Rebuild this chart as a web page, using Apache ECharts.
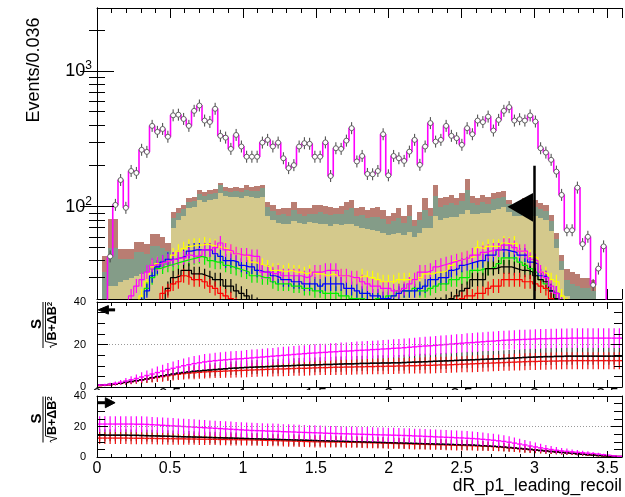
<!DOCTYPE html>
<html><head><meta charset="utf-8">
<script src="https://cdn.jsdelivr.net/npm/echarts@6/dist/echarts.min.js"></script>
<style>html,body{margin:0;padding:0;background:#fff}#c{width:625px;height:497px}</style>
</head><body><div id="c"></div>
<script>
// ---------------- DATA ----------------
const binWidth = 0.036;   // Events/0.036
const xLabels = [0, 0.5, 1, 1.5, 2, 2.5, 3, 3.5];
const yMainLabels = [100, 1000];
const yMainMinor = [30,40,50,60,70,80,90,200,300,400,500,600,700,800,900,2000];

const dataCounts = [
  8, 15, 43, 103, 157, 98, 183, 177, 262, 253,
  393, 355, 373, 327, 470, 475, 442, 393, 507, 555,
  430, 420, 525, 332, 322, 266, 337, 277, 233, 233,
  233, 296, 310, 277, 296, 227, 192, 202, 277, 293,
  290, 233, 233, 297, 168, 269, 266, 306, 378, 215,
  236, 174, 173, 183, 341, 170, 236, 227, 217, 254,
  310, 203, 277, 412, 301, 310, 393, 332, 319, 285,
  378, 341, 430, 419, 460, 363, 435, 507, 540, 430,
  440, 430, 469, 423, 269, 250, 221, 181, 122, 67,
  67, 138, 53, 60, 26.5, 35, 51, 14, 10, 8];

const bkgKhaki = [
  0, 6, 26, 26, 28, 29, 30, 31, 32, 33,
  34, 35, 36, 37, 70, 80, 86, 98, 100, 112,
  108, 112, 113, 125, 120, 118, 118, 115, 120, 118,
  116, 118, 86, 80, 76, 75, 74, 78, 76, 75,
  77, 76, 74, 75, 72, 74, 73, 75, 75, 72,
  70, 68, 67, 66, 64, 62, 63, 64, 62, 65,
  60, 64, 70, 70, 85, 80, 82, 84, 84, 88,
  95, 88, 88, 90, 90, 95, 96, 100, 92, 85,
  86, 88, 90, 86, 82, 80, 66, 50, 34, 22,
  20, 20, 18, 18, 17, 0, 0, 0, 0, 0];
const bkgGreen = [
  0, 27, 24, 24, 13, 12, 11, 15, 14, 12,
  17, 16, 14, 10, 12, 10, 10, 10, 10, 12,
  12, 11, 14, 20, 10, 10, 12, 13, 12, 12,
  14, 18, 13, 13, 11, 13, 12, 16, 12, 11,
  12, 13, 17, 14, 15, 14, 15, 20, 22, 14,
  17, 15, 17, 18, 17, 13, 15, 18, 14, 20,
  12, 16, 25, 15, 35, 20, 20, 22, 18, 22,
  38, 18, 15, 18, 15, 18, 19, 18, 12, 10,
  13, 15, 16, 14, 14, 13, 12, 8, 6, 7,
  7, 6, 7, 7, 7, 0, 0, 0, 0, 0];
const bkgRose = [
  0, 10, 31, 31, 8, 8, 8, 9, 9, 8,
  12, 12, 10, 7, 10, 8, 7, 7, 8, 9,
  8, 10, 8, 3, 10, 10, 10, 10, 12, 10,
  12, 8, 10, 10, 9, 10, 11, 15, 9, 12,
  8, 14, 12, 12, 12, 10, 13, 14, 15, 11,
  13, 12, 13, 16, 14, 10, 12, 15, 10, 17,
  8, 12, 20, 12, 25, 15, 15, 16, 13, 16,
  26, 14, 12, 14, 12, 13, 14, 13, 8, 8,
  10, 12, 12, 11, 10, 10, 9, 6, 4, 6,
  6, 6, 5, 5, 5, 0, 0, 0, 0, 0];

const sigYellow = [
  2,3,5,7,9,12,15,18,22,28,
  36,38,39,40,44,47,49,51,52,52,
  53,52,51,50,49,47,45,44,43,39,
  38,37,36,34,34,33,34,33,33,32,
  33,32,32,31,32,31,31,31,30,30,
  31,30,30,29,28,28,28,29,29,29,
  29,30,32,32,33,33,34,37,40,41,
  42,43,50,49,51,51,51,54,53,54,
  47,46,43,42,33,32,29,28,22,19,
  16,14,12,10,8,7,6,5,4,3];
const sigBlue = [
  1,2,3,5,7,9,12,15,19,24,
  31,36,39,41,41,42,43,47,48,48,
  48,48,45,43,40,40,39,37,36,36,
  34,33,33,31,30,29,29,28,28,27,
  27,27,26,27,27,27,27,25,25,24,
  23,23,22,22,21,21,22,23,24,24,
  24,25,26,29,29,30,30,34,35,37,
  38,39,40,40,44,44,48,48,47,46,
  44,44,39,38,31,30,24,23,19,16,
  14,12,10,9,8,7,6,5,4,3];
const sigGreen = [
  1,2,3,4,6,8,11,15,19,25,
  30,35,36,37,38,39,40,41,42,43,
  42,40,39,39,37,36,35,34,33,31,
  31,30,30,28,27,27,27,26,26,25,
  25,24,24,23,23,23,22,22,21,21,
  21,20,20,21,21,22,22,24,24,24,
  25,24,24,25,26,27,27,29,29,30,
  30,34,34,35,35,36,38,42,42,42,
  39,37,35,33,29,27,24,21,18,15,
  13,11,9,8,7,6,5,4,3,2];
const sigBlack = [
  1,1,2,2,3,4,5,6,8,10,
  12,14,17,25,30,31,34,34,32,32,
  31,30,29,29,26,26,24,23,22,20,
  19,18,17,16,15,14,13,12,12,11,
  11,10,10,10,10,10,10,10,10,10,
  11,11,11,12,12,13,14,15,16,16,
  16,16,17,18,19,19,20,21,22,24,
  25,29,29,29,35,35,36,36,36,35,
  34,34,33,31,29,28,24,21,18,15,
  13,11,9,8,7,6,5,4,3,3];
const sigRed = [
  1,1,1,2,2,3,4,5,7,9,
  12,16,23,24,27,28,31,30,29,29,
  28,26,25,23,22,21,19,18,17,16,
  15,14,13,12,11,11,10,10,9,9,
  9,9,9,9,9,9,9,10,10,10,
  11,11,12,12,13,13,14,14,15,15,
  14,15,16,16,17,18,18,19,20,21,
  22,22,23,23,25,26,26,29,29,29,
  29,28,28,27,26,25,21,18,15,12,
  10,9,8,7,6,5,4,3,3,2];
const sigMagenta = [
  3,5,7,10,13,17,22,26,29,33,
  37,38,39,40,41,42,42,44,43,44,
  48,48,50,54,48,47,45,44,44,43,
  43,33,33,32,33,31,31,31,31,30,
  31,33,33,34,34,34,31,31,30,30,
  28,27,26,26,25,25,24,24,25,27,
  29,33,33,34,36,37,38,39,40,41,
  42,44,44,46,47,48,48,52,52,50,
  47,47,41,40,33,30,26,23,19,16,
  14,12,10,8,7,6,5,4,3,3];

// cut arrow in main pad: [cutX, lineTop, tipX, tipY, baseX, baseLow, baseHigh]
const cutArrow = [3.0, 200, 2.815, 100, 2.99, 77.5, 126];

// significance, cut from the left (middle pad)
const sigL_mag = [
  0.9,1.0,1.3,1.7,2.2,2.8,3.4,4.0,4.7,5.4,
  6.1,6.8,7.5,8.2,8.8,9.4,10.0,10.5,11.0,11.4,
  11.8,12.1,12.4,12.6,12.8,13.0,13.2,13.3,13.5,13.7,
  13.9,14.1,14.3,14.5,14.7,14.9,15.1,15.3,15.5,15.7,
  15.9,16.0,16.2,16.3,16.5,16.6,16.8,16.9,17.0,17.2,
  17.3,17.4,17.6,17.7,17.9,18.0,18.2,18.3,18.5,18.7,
  18.9,19.1,19.3,19.4,19.6,19.8,20.0,20.2,20.4,20.6,
  20.8,20.9,21.1,21.3,21.5,21.6,21.8,22.0,22.1,22.2,
  22.3,22.4,22.5,22.6,22.7,22.7,22.8,22.8,22.9,22.9,
  23.0,23.0,23.0,23.0,23.0,23.0,23.0,23.0,23.0,23.0];
const errL_mag = [
  0.4,0.5,0.7,0.9,1.1,1.4,1.7,1.9,2.2,2.4,
  2.6,2.8,3.0,3.1,3.2,3.3,3.4,3.5,3.6,3.6,
  3.7,3.7,3.7,3.8,3.8,3.8,3.8,3.8,3.9,3.9,
  3.9,3.9,3.9,3.9,4.0,4.0,4.0,4.0,4.0,4.0,
  4.0,4.1,4.1,4.1,4.1,4.1,4.1,4.1,4.2,4.2,
  4.2,4.2,4.2,4.2,4.2,4.2,4.3,4.3,4.3,4.3,
  4.3,4.3,4.3,4.4,4.4,4.4,4.4,4.4,4.4,4.4,
  4.5,4.5,4.5,4.5,4.5,4.5,4.5,4.5,4.5,4.5,
  4.6,4.6,4.6,4.6,4.6,4.6,4.6,4.6,4.6,4.6,
  4.6,4.6,4.6,4.6,4.6,4.6,4.6,4.6,4.6,4.6];
const sigL_blk = [
  0.9,1.0,1.2,1.5,1.8,2.2,2.6,3.0,3.4,3.8,
  4.4,4.9,5.3,5.7,6.1,6.5,6.8,7.1,7.4,7.6,
  7.8,8.0,8.2,8.4,8.6,8.8,8.9,9.1,9.2,9.3,
  9.4,9.5,9.6,9.7,9.8,9.9,10.0,10.1,10.2,10.3,
  10.3,10.4,10.5,10.6,10.6,10.7,10.8,10.9,10.9,11.0,
  11.1,11.1,11.2,11.2,11.3,11.3,11.4,11.4,11.5,11.6,
  11.7,11.8,11.9,12.0,12.1,12.2,12.3,12.4,12.5,12.6,
  12.7,12.8,12.9,13.0,13.1,13.2,13.3,13.4,13.5,13.6,
  13.8,13.9,14.0,14.1,14.2,14.3,14.3,14.4,14.4,14.5,
  14.5,14.5,14.5,14.5,14.5,14.5,14.5,14.5,14.5,14.5];
const errL_blk = [
  0.3,0.4,0.5,0.6,0.8,1.0,1.2,1.4,1.6,1.8,
  2.0,2.2,2.4,2.5,2.6,2.7,2.8,2.9,3.0,3.0,
  3.1,3.1,3.1,3.2,3.2,3.2,3.2,3.3,3.3,3.3,
  3.3,3.3,3.4,3.4,3.4,3.4,3.4,3.4,3.5,3.5,
  3.5,3.5,3.5,3.5,3.5,3.6,3.6,3.6,3.6,3.6,
  3.6,3.6,3.6,3.7,3.7,3.7,3.7,3.7,3.7,3.7,
  3.7,3.8,3.8,3.8,3.8,3.8,3.8,3.8,3.8,3.8,
  3.9,3.9,3.9,3.9,3.9,3.9,3.9,3.9,3.9,3.9,
  4.0,4.0,4.0,4.0,4.0,4.0,4.0,4.0,4.0,4.0,
  4.0,4.0,4.0,4.0,4.0,4.0,4.0,4.0,4.0,4.0];
const sigL_red = [
  0.6,0.8,1.0,1.3,1.7,2.1,2.5,2.9,3.3,3.7,
  4.1,4.5,4.9,5.3,5.7,6.0,6.3,6.5,6.7,6.9,
  7.1,7.2,7.3,7.4,7.5,7.6,7.7,7.8,7.9,8.0,
  8.1,8.2,8.3,8.4,8.5,8.5,8.6,8.7,8.8,8.8,
  8.9,9.0,9.1,9.1,9.2,9.3,9.3,9.4,9.4,9.5,
  9.5,9.6,9.6,9.7,9.7,9.8,9.8,9.9,9.9,10.0,
  10.0,10.1,10.2,10.2,10.3,10.4,10.4,10.5,10.6,10.7,
  10.8,10.9,11.0,11.1,11.2,11.3,11.4,11.5,11.6,11.7,
  11.8,11.9,12.0,12.0,12.1,12.1,12.2,12.2,12.3,12.3,
  12.4,12.4,12.4,12.4,12.4,12.4,12.4,12.4,12.4,12.4];
const errL_red = errL_blk.slice();

// significance, cut from the right (bottom pad)
const sigR_mag = [
  21.6,21.6,21.6,21.6,21.6,21.6,21.6,21.5,21.5,21.4,
  21.2,21.0,20.8,20.6,20.4,20.2,20.0,19.8,19.6,19.4,
  19.2,19.0,18.8,18.6,18.4,18.2,18.0,17.8,17.6,17.4,
  17.3,17.2,17.0,16.9,16.8,16.6,16.5,16.4,16.2,16.1,
  16.0,15.9,15.8,15.6,15.5,15.4,15.3,15.2,15.1,15.0,
  14.9,14.8,14.7,14.6,14.5,14.4,14.3,14.2,14.1,14.0,
  13.8,13.7,13.5,13.4,13.2,13.1,12.9,12.8,12.6,12.5,
  12.3,12.1,11.9,11.6,11.3,11.0,10.6,10.2,9.7,9.1,
  8.5,7.9,7.2,6.6,6.0,5.4,4.9,4.4,4.0,3.7,
  3.4,3.1,2.8,2.5,2.2,1.9,1.5,1.1,0.7,0.4];
const errR_mag = [
  5.2,5.2,5.2,5.2,5.2,5.2,5.2,5.2,5.2,5.2,
  5.1,5.1,5.1,5.1,5.1,5.1,5.1,5.1,5.1,5.1,
  5.0,5.0,5.0,5.0,5.0,5.0,5.0,5.0,5.0,5.0,
  5.0,5.0,5.0,5.0,5.0,4.9,4.9,4.9,4.9,4.9,
  4.9,4.9,4.9,4.9,4.9,4.9,4.9,4.9,4.9,4.9,
  4.8,4.8,4.8,4.8,4.8,4.8,4.8,4.8,4.8,4.8,
  4.8,4.8,4.8,4.8,4.8,4.8,4.8,4.8,4.7,4.7,
  4.7,4.6,4.5,4.4,4.3,4.2,4.1,4.0,3.9,3.7,
  3.5,3.3,3.1,2.9,2.7,2.5,2.3,2.1,1.9,1.8,
  1.6,1.5,1.3,1.2,1.0,0.9,0.7,0.6,0.4,0.3];
const sigR_blk = [
  14.3,14.3,14.3,14.3,14.3,14.3,14.2,14.2,14.1,14.0,
  13.9,13.8,13.7,13.6,13.5,13.4,13.3,13.2,13.1,13.0,
  12.9,12.8,12.7,12.6,12.5,12.4,12.3,12.2,12.1,12.0,
  11.9,11.8,11.7,11.6,11.5,11.4,11.3,11.2,11.1,11.0,
  10.9,10.8,10.7,10.6,10.5,10.4,10.3,10.2,10.1,10.0,
  9.9,9.8,9.7,9.6,9.5,9.4,9.3,9.2,9.1,9.0,
  8.9,8.8,8.7,8.6,8.5,8.4,8.3,8.2,8.1,8.0,
  7.9,7.8,7.6,7.4,7.2,7.0,6.8,6.5,6.2,5.9,
  5.6,5.3,5.0,4.6,4.3,4.0,3.6,3.3,3.0,2.7,
  2.4,2.1,1.8,1.5,1.3,1.0,0.8,0.6,0.4,0.3];
const errR_blk = [
  3.9,3.9,3.9,3.9,3.9,3.9,3.9,3.9,3.9,3.9,
  3.9,3.9,3.9,3.9,3.9,3.9,3.9,3.8,3.8,3.8,
  3.8,3.8,3.8,3.8,3.8,3.8,3.8,3.8,3.8,3.8,
  3.8,3.8,3.7,3.7,3.7,3.7,3.7,3.7,3.7,3.7,
  3.7,3.7,3.7,3.7,3.7,3.6,3.6,3.6,3.6,3.6,
  3.6,3.6,3.6,3.6,3.6,3.6,3.5,3.5,3.5,3.5,
  3.5,3.5,3.5,3.5,3.4,3.4,3.4,3.4,3.4,3.3,
  3.3,3.2,3.2,3.1,3.0,2.9,2.8,2.7,2.6,2.5,
  2.4,2.3,2.2,2.0,1.9,1.8,1.6,1.5,1.4,1.3,
  1.1,1.0,0.9,0.8,0.7,0.6,0.5,0.4,0.3,0.2];
const sigR_red = [
  12.4,12.4,12.4,12.4,12.4,12.4,12.3,12.3,12.3,12.2,
  12.2,12.1,12.1,12.0,12.0,11.9,11.9,11.8,11.8,11.7,
  11.7,11.6,11.6,11.5,11.5,11.4,11.4,11.3,11.3,11.2,
  11.1,11.0,10.9,10.8,10.7,10.6,10.5,10.4,10.3,10.2,
  10.1,10.0,9.95,9.9,9.85,9.8,9.75,9.7,9.65,9.6,
  9.5,9.4,9.3,9.2,9.1,9.0,8.9,8.8,8.7,8.6,
  8.5,8.4,8.3,8.2,8.1,8.0,7.9,7.8,7.7,7.6,
  7.5,7.4,7.3,7.2,7.0,6.8,6.6,6.3,6.0,5.7,
  5.4,5.1,4.8,4.5,4.2,3.9,3.6,3.3,3.0,2.7,
  2.4,2.1,1.8,1.5,1.3,1.0,0.8,0.6,0.4,0.3];
const errR_red = errR_blk.slice();

// small cut arrows of the significance pads: [tipX, baseX, tailX, y, halfHeight]
const arrowLeftPad = [0.008, 0.078, 0.124, 36.3, 2.0];
const arrowRightPad = [0.124, 0.057, 0.006, 35.6, 3.3];

// ---------------- CHART ----------------
const FONT = '"Liberation Sans", Arial, Helvetica, sans-serif';
const X_MAX = 3.6, Y_MAIN_MIN = 20.9, Y_MAIN_MAX = 2897;
const SIG_ERR_PX = 7, DATA_ERR_PX = 6;

const chart = echarts.init(document.getElementById('c'), null, {renderer: 'canvas'});

function stepData(vals) {
  const d = vals.map((v, i) => [i * binWidth, v]);
  d.push([vals.length * binWidth, vals[vals.length - 1]]);
  return d;
}
function centers(vals) { return vals.map((v, i) => [(i + 0.5) * binWidth, v]); }
function centersErr(vals, errs) { return vals.map((v, i) => [(i + 0.5) * binWidth, v, errs[i]]); }

function stackRows(lowArrs, comp) {
  const rows = [];
  comp.forEach((v, i) => {
    if (v <= 0) return;
    let lo = 0;
    lowArrs.forEach(a => { lo += a[i]; });
    rows.push([i * binWidth, (i + 1) * binWidth, Math.max(lo, 1), lo + v]);
  });
  return rows;
}
function stackSeries(rows, color) {
  return {
    type: 'custom', xAxisIndex: 0, yAxisIndex: 0, clip: true, z: 2, silent: true,
    data: rows,
    renderItem(params, api) {
      const p0 = api.coord([api.value(0), api.value(3)]);
      const p1 = api.coord([api.value(1), api.value(2)]);
      const x0 = Math.round(p0[0]), x1 = Math.round(p1[0]);
      const y0 = Math.round(p0[1]), y1 = Math.min(Math.round(p1[1]), 2000);
      return {type: 'rect', shape: {x: x0, y: y0, width: x1 - x0, height: y1 - y0},
        style: {fill: color, stroke: null}};
    }
  };
}
function stepLine(vals, color, lw, z) {
  return {type: 'line', xAxisIndex: 0, yAxisIndex: 0, step: 'end', symbol: 'none', clip: true, z: z,
    silent: true, data: stepData(vals), lineStyle: {color: color, width: lw}};
}
function sigErrBars(vals, color, z) {
  return {type: 'custom', xAxisIndex: 0, yAxisIndex: 0, clip: true, z: z, silent: true,
    data: centers(vals),
    renderItem(params, api) {
      const p = api.coord([api.value(0), api.value(1)]);
      return {type: 'line', shape: {x1: p[0], y1: p[1] - SIG_ERR_PX, x2: p[0], y2: p[1] + SIG_ERR_PX},
        style: {stroke: color, lineWidth: 1.2}};
    }};
}
function sigPadSeries(xi, yi, vals, errs, color, lw, z, withErr) {
  return {type: 'custom', xAxisIndex: xi, yAxisIndex: yi, clip: true, z: z, silent: true,
    data: centersErr(vals, errs),
    renderItem(params, api) {
      const xc = api.value(0), v = api.value(1), e = api.value(2);
      const a = api.coord([xc - binWidth / 2, v]), b = api.coord([xc + binWidth / 2, v]);
      const ch = [];
      if (withErr) {
        const t = api.coord([xc, v + e]), u = api.coord([xc, v - e]);
        ch.push({type: 'line', shape: {x1: t[0], y1: t[1], x2: u[0], y2: u[1]}, style: {stroke: color, lineWidth: 1.2}});
      }
      ch.push({type: 'line', shape: {x1: a[0], y1: a[1], x2: b[0], y2: b[1]}, style: {stroke: color, lineWidth: lw}});
      return {type: 'group', children: ch};
    }};
}
function padArrow(xi, yi, arr) {
  return {type: 'custom', xAxisIndex: xi, yAxisIndex: yi, clip: false, z: 20, silent: true,
    data: [arr],
    renderItem(params, api) {
      const tipX = api.value(0), baseX = api.value(1), tailX = api.value(2), y = api.value(3), h = api.value(4);
      const tip = api.coord([tipX, y]), b1 = api.coord([baseX, y + h]), b2 = api.coord([baseX, y - h]);
      const bm = api.coord([baseX, y]), tail = api.coord([tailX, y]);
      return {type: 'group', children: [
        {type: 'line', shape: {x1: bm[0], y1: bm[1], x2: tail[0], y2: tail[1]}, style: {stroke: '#000', lineWidth: 3}},
        {type: 'polygon', shape: {points: [tip, b1, b2]}, style: {fill: '#000', stroke: '#000', lineWidth: 1}}
      ]};
    }};
}

// axes helpers
function xAx(grid, pos, interval, tickLen, showLine, label, z) {
  return {type: 'value', gridIndex: grid, position: pos, min: 0, max: X_MAX, interval: interval, z: z,
    axisLine: {show: showLine, onZero: false, lineStyle: {color: '#000', width: 1}},
    axisTick: {show: tickLen > 0, inside: true, length: tickLen, lineStyle: {color: '#000', width: 1}},
    axisLabel: label ? label : {show: false},
    splitLine: {show: false}};
}
function sigY(grid, pos, showLabel) {
  return {type: 'value', gridIndex: grid, position: pos, min: 0, max: 40, interval: 20, z: 10,
    axisLine: {show: true, onZero: false, lineStyle: {color: '#000', width: 1}},
    axisTick: {show: true, inside: true, length: 11, lineStyle: {color: '#000'}},
    minorTick: {show: true, splitNumber: 4, length: 8, lineStyle: {color: '#000'}},
    axisLabel: {show: showLabel, fontSize: 11, fontFamily: FONT, color: '#000', margin: 11},
    splitLine: {show: pos === 'left', lineStyle: {color: '#999', type: [1, 2], width: 1}}};
}
function logY(pos, custom, tickLen, withLabel) {
  return {type: 'log', gridIndex: 0, position: pos, min: Y_MAIN_MIN, max: Y_MAIN_MAX, z: 10,
    axisLine: {show: tickLen > 10, lineStyle: {color: '#000', width: 1}},
    axisTick: {show: true, inside: true, length: tickLen, customValues: custom, lineStyle: {color: '#000'}},
    axisLabel: withLabel ? {show: true, customValues: custom, margin: 5,
      formatter: v => '{b|10}{s|' + Math.round(Math.log10(v)) + '}',
      rich: {b: {fontSize: 18, fontFamily: FONT, color: '#000', lineHeight: 22},
             s: {fontSize: 12, fontFamily: FONT, color: '#000', lineHeight: 12, verticalAlign: 'top'}}}
      : {show: false},
    splitLine: {show: false}};
}

const bottomLabel = {show: true, fontSize: 16, fontFamily: FONT, color: '#000', margin: 4,
  customValues: xLabels, formatter: v => String(v)};
// labels of the middle pad: mostly hidden under the bottom pad, as in the original layout
const middleLabel = {show: true, fontSize: 16, fontFamily: FONT, color: '#000', margin: 1,
  customValues: xLabels, formatter: v => String(v)};

const xAxes = [
  xAx(0, 'bottom', 0.5, 10, true, null, 1), xAx(0, 'top', 0.5, 10, true, null, 10),
  xAx(0, 'bottom', 0.1, 5, false, null, 1), xAx(0, 'top', 0.1, 5, false, null, 10),
  xAx(1, 'bottom', 0.5, 7, true, null, 10), xAx(1, 'top', 0.5, 7, true, null, 10),
  xAx(1, 'bottom', 0.1, 4, false, null, 10), xAx(1, 'top', 0.1, 4, false, null, 10),
  xAx(2, 'bottom', 0.5, 6, true, bottomLabel, 10), xAx(2, 'top', 0.5, 6, true, null, 10),
  xAx(2, 'bottom', 0.1, 3, false, null, 10), xAx(2, 'top', 0.1, 3, false, null, 10),
  xAx(1, 'bottom', 0.5, 0, false, middleLabel, 1)
];
const yAxes = [
  logY('left', yMainLabels, 17, true), logY('right', yMainLabels, 17, false),
  logY('left', yMainMinor, 8, false), logY('right', yMainMinor, 8, false),
  sigY(1, 'left', true), sigY(1, 'right', false),
  sigY(2, 'left', true), sigY(2, 'right', false)
];

const series = [
  stackSeries(stackRows([], bkgKhaki), '#d4c98c'),
  stackSeries(stackRows([bkgKhaki], bkgGreen), '#849c88'),
  stackSeries(stackRows([bkgKhaki, bkgGreen], bkgRose), '#b97d72'),
  sigErrBars(sigYellow, '#ffff00', 3), stepLine(sigYellow, '#ffff00', 1.2, 3),
  sigErrBars(sigGreen, '#00ee00', 3), stepLine(sigGreen, '#00ee00', 1.2, 3),
  sigErrBars(sigBlue, '#0000ff', 3), stepLine(sigBlue, '#0000ff', 1.2, 3),
  sigErrBars(sigBlack, '#000000', 3), stepLine(sigBlack, '#000000', 1.2, 3),
  sigErrBars(sigRed, '#ff0000', 3), stepLine(sigRed, '#ff0000', 1.2, 3),
  sigErrBars(sigMagenta, '#ff00ff', 3), stepLine(sigMagenta, '#ff00ff', 1.2, 3),
  stepLine(dataCounts, '#ff00ff', 1.6, 4),
  {type: 'custom', xAxisIndex: 0, yAxisIndex: 0, clip: true, z: 5, silent: true,
    data: centers(dataCounts),
    renderItem(params, api) {
      const p = api.coord([api.value(0), api.value(1)]);
      return {type: 'group', children: [
        {type: 'line', shape: {x1: p[0], y1: p[1] - DATA_ERR_PX, x2: p[0], y2: p[1] + DATA_ERR_PX}, style: {stroke: '#444', lineWidth: 1}},
        {type: 'circle', shape: {cx: p[0], cy: p[1], r: 2.5}, style: {fill: '#fff', stroke: '#555', lineWidth: 0.9}}
      ]};
    }},
  {type: 'custom', xAxisIndex: 0, yAxisIndex: 0, clip: true, z: 8, silent: true,
    data: [cutArrow],
    renderItem(params, api) {
      const top = api.coord([api.value(0), api.value(1)]);
      const bot = api.coord([api.value(0), Y_MAIN_MIN]);
      const tip = api.coord([api.value(2), api.value(3)]);
      const b1 = api.coord([api.value(4), api.value(5)]);
      const b2 = api.coord([api.value(4), api.value(6)]);
      return {type: 'group', children: [
        {type: 'line', shape: {x1: top[0], y1: top[1], x2: bot[0], y2: bot[1]}, style: {stroke: '#000', lineWidth: 2.5}},
        {type: 'polygon', shape: {points: [tip, b1, b2]}, style: {fill: '#000'}}
      ]};
    }},
  // middle pad
  sigPadSeries(4, 4, sigL_blk, errL_blk, '#3a3a3a', 1.4, 3, true),
  sigPadSeries(4, 4, sigL_red, errL_red, '#ee1111', 1.4, 4, true),
  sigPadSeries(4, 4, sigL_blk, errL_blk, '#000000', 1.4, 5, false),
  sigPadSeries(4, 4, sigL_mag, errL_mag, '#ff00ff', 1.4, 6, true),
  padArrow(4, 4, arrowLeftPad),
  // bottom pad
  sigPadSeries(8, 6, sigR_blk, errR_blk, '#3a3a3a', 1.4, 3, true),
  sigPadSeries(8, 6, sigR_red, errR_red, '#ee1111', 1.4, 4, true),
  sigPadSeries(8, 6, sigR_blk, errR_blk, '#000000', 1.4, 5, false),
  sigPadSeries(8, 6, sigR_mag, errR_mag, '#ff00ff', 1.4, 6, true),
  padArrow(8, 6, arrowRightPad)
];

function fracLabel(cx, cy) {
  return {type: 'group', x: cx, y: cy, rotation: Math.PI / 2, silent: true, children: [
    {type: 'text', x: 1, y: -6, style: {text: 'S', font: 'bold 15px ' + FONT, fill: '#000', align: 'center', verticalAlign: 'middle'}},
    {type: 'line', shape: {x1: -23, y1: 0, x2: 23, y2: 0}, style: {stroke: '#000', lineWidth: 1}},
    {type: 'polyline', shape: {points: [[-23, 8], [-21.5, 7], [-19, 14], [-16.5, 2.5], [23, 2.5]]}, style: {stroke: '#000', lineWidth: 0.9, fill: null}},
    {type: 'text', x: -15.5, y: 9.5, style: {text: '{a|B+ΔB}{b|2}', fill: '#000', align: 'left', verticalAlign: 'middle',
      rich: {a: {font: 'bold 12.5px ' + FONT, fill: '#000', lineHeight: 13},
             b: {font: 'bold 8px ' + FONT, fill: '#000', lineHeight: 8, verticalAlign: 'top'}}}}
  ]};
}

const option = {
  animation: false,
  backgroundColor: '#ffffff',
  grid: [
    {left: 97, top: 8, width: 525, height: 291},
    {left: 97, top: 302, width: 525, height: 85},
    {left: 97, top: 396, width: 525, height: 61}
  ],
  xAxis: xAxes,
  yAxis: yAxes,
  series: series,
  graphic: [
    // the bottom pad's white background hides most of the middle pad's tick labels
    {type: 'rect', z: 2, silent: true, shape: {x: 89, y: 390, width: 536, height: 14}, style: {fill: '#fff'}},
    {type: 'text', x: 34, y: 70, rotation: Math.PI / 2, silent: true,
      style: {text: 'Events/0.036', font: '18px ' + FONT, fill: '#000', align: 'center', verticalAlign: 'middle'}},
    {type: 'text', x: 622, y: 486, silent: true,
      style: {text: 'dR_p1_leading_recoil', font: '17.5px ' + FONT, fill: '#000', align: 'right', verticalAlign: 'middle'}},
    fracLabel(43, 325),
    fracLabel(43, 419.5)
  ]
};
chart.setOption(option);
</script>
</body></html>
